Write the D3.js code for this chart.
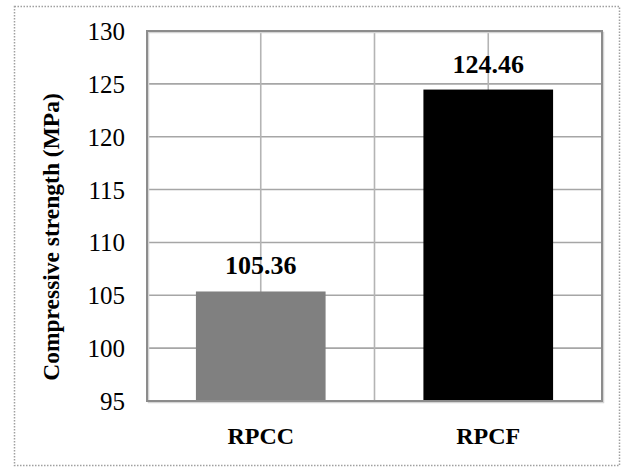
<!DOCTYPE html>
<html>
<head>
<meta charset="utf-8">
<script src="https://cdn.jsdelivr.net/npm/d3@7"></script>
<style>
  html, body { margin: 0; padding: 0; background: #fff; }
</style>
</head>
<body>
<script>
const categories = ["RPCC", "RPCF"];
const values = [105.36, 124.46];
const valueLabels = ["105.36", "124.46"];
const barColors = ["#808080", "#000000"];
const yTicks = [95, 100, 105, 110, 115, 120, 125, 130];
const yTitle = "Compressive strength (MPa)";

const FONT = "'Liberation Serif'";
const W = 622, H = 468;
const plot = { left: 147, right: 602, top: 31, bottom: 401 };

const svg = d3.select("body").append("svg").attr("width", W).attr("height", H);

// outer dotted frame
svg.append("rect")
  .attr("x", 14.5).attr("y", 6.5)
  .attr("width", 605).attr("height", 459)
  .attr("fill", "none").attr("stroke", "#a0a0a0")
  .attr("stroke-width", 1.5).attr("stroke-dasharray", "1.5,1.5");

const y = d3.scaleLinear().domain([95, 130]).range([plot.bottom, plot.top]);
const x = d3.scaleBand().domain(categories).range([plot.left, plot.right])
  .paddingInner(0.43).paddingOuter(0.215);

// horizontal gridlines
svg.append("g").selectAll("line").data(yTicks.slice(1, -1)).join("line")
  .attr("x1", plot.left).attr("x2", plot.right)
  .attr("y1", d => y(d)).attr("y2", d => y(d))
  .attr("stroke", "#a6a6a6").attr("stroke-width", 1.6);

// vertical gridlines at category centres and between categories
const centers = categories.map(c => x(c) + x.bandwidth() / 2);
const vlines = centers.slice();
for (let i = 0; i < centers.length - 1; i++) vlines.push((centers[i] + centers[i + 1]) / 2);
svg.append("g").selectAll("line").data(vlines).join("line")
  .attr("x1", d => d).attr("x2", d => d)
  .attr("y1", plot.top).attr("y2", plot.bottom)
  .attr("stroke", "#b4b4b4").attr("stroke-width", 1.6);

// bars
svg.append("g").selectAll("rect").data(values).join("rect")
  .attr("x", (d, i) => x(categories[i]))
  .attr("width", x.bandwidth())
  .attr("y", d => y(d))
  .attr("height", d => y(95) - y(d))
  .attr("fill", (d, i) => barColors[i]);

// plot border (light shadow + dark line)
svg.append("rect")
  .attr("x", plot.left + 1.5).attr("y", plot.top + 1.5)
  .attr("width", plot.right - plot.left).attr("height", plot.bottom - plot.top)
  .attr("fill", "none").attr("stroke", "#d4d4d4").attr("stroke-width", 1.5);
svg.append("rect")
  .attr("x", plot.left).attr("y", plot.top)
  .attr("width", plot.right - plot.left).attr("height", plot.bottom - plot.top)
  .attr("fill", "none").attr("stroke", "#8c8c8c").attr("stroke-width", 2);

// y tick labels
const yAxis = d3.axisLeft(y).tickValues(yTicks).tickSize(0).tickPadding(22);
const gy = svg.append("g").attr("transform", `translate(${plot.left},0)`).call(yAxis);
gy.select(".domain").remove();
gy.attr("font-family", FONT);
gy.selectAll("text")
  .attr("font-family", FONT)
  .attr("font-size", 25).attr("fill", "#000").attr("dy", "0.34em");

// value labels
svg.append("g").selectAll("text").data(values).join("text")
  .attr("font-family", FONT)
  .attr("x", (d, i) => centers[i])
  .attr("y", d => y(d) - 17)
  .attr("text-anchor", "middle")
  .attr("font-size", 26).attr("font-weight", "bold")
  .text((d, i) => valueLabels[i]);

// category labels
const xAxis = d3.axisBottom(x).tickSize(0).tickPadding(0);
const gx = svg.append("g").attr("transform", `translate(0,${plot.bottom})`).call(xAxis);
gx.select(".domain").remove();
gx.attr("font-family", FONT);
gx.selectAll("text")
  .attr("font-family", FONT)
  .attr("font-size", 24).attr("font-weight", "bold").attr("fill", "#000")
  .attr("dy", null).attr("y", 43);

// y axis title
svg.append("text")
  .attr("font-family", FONT)
  .attr("transform", `translate(59,237) rotate(-90)`)
  .attr("text-anchor", "middle")
  .attr("font-size", 23.5).attr("font-weight", "bold")
  .text(yTitle);
</script>
</body>
</html>
